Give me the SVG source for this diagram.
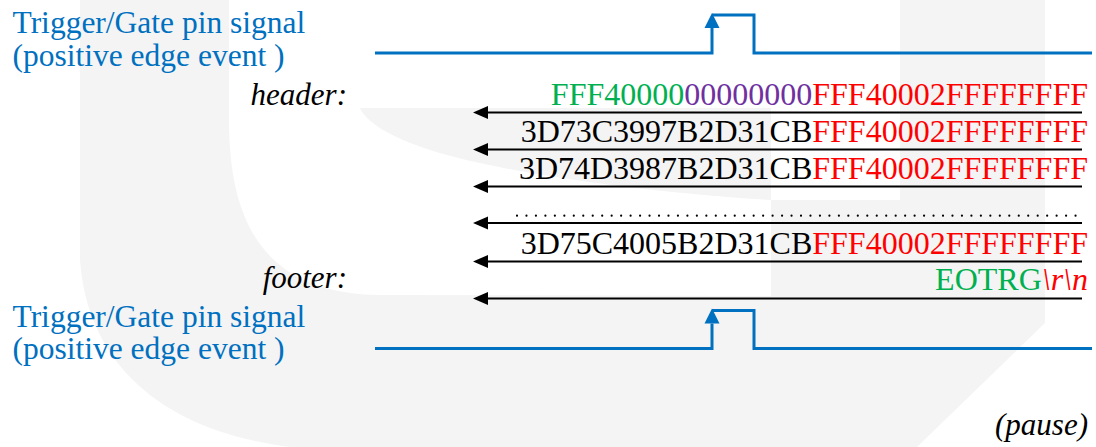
<svg xmlns="http://www.w3.org/2000/svg" width="1096" height="447" viewBox="0 0 1096 447">
  <defs>
    <style>
      .lbl { fill: #0070c0; font-size: 31.5px; }
      .tag { fill: #000; font-size: 31px; font-style: italic; }
      .hex { fill: #000; font-size: 32px; }
      .g { fill: #00b050; }
      .p { fill: #7030a0; }
      .r { fill: #ff0000; }
      .it { font-style: italic; }
      .wm { fill: #f4f4f4; stroke: none; }
      .sig { fill: none; stroke: #0070c0; stroke-width: 3; }
      .pkt { fill: none; stroke: #000; stroke-width: 2.2; }
    </style>
    <marker id="up" viewBox="0 -8 16 16" refX="0" refY="0" markerWidth="16" markerHeight="16" markerUnits="userSpaceOnUse" orient="auto">
      <path d="M0,-7.5 L15,0 L0,7.5 Z" fill="#0070c0"/>
    </marker>
    <marker id="left" viewBox="0 -7 16 14" refX="0" refY="0" markerWidth="16" markerHeight="14" markerUnits="userSpaceOnUse" orient="auto">
      <path d="M0,-6.5 L15,0 L0,6.5 Z" fill="#000"/>
    </marker>
  </defs>

  <rect width="1096" height="447" fill="#ffffff"/>

  <!-- background emblem -->
  <g id="emblem">
    <path class="wm" d="M80,0 H229 V120 C229,230 270,294 380,295 L771,296 V200 H900 V0 H1045 V323 L917,447 H290 C170,432 88,370 80,260 Z"/>
    <path class="wm" d="M360,108 H771 V200 C680,195 520,178 430,150 C390,137 366,122 360,108 Z"/>
  </g>

  <g font-family="Liberation Serif, DejaVu Serif, Noto Serif, serif">
    <!-- trigger pulses -->
    <g id="trigger-top">
      <text class="lbl" x="12.5" y="33.3">Trigger/Gate pin signal</text>
      <text class="lbl" x="12.5" y="66">(positive edge event )</text>
      <path class="sig" d="M375,53 H712 V28" marker-end="url(#up)"/>
      <path class="sig" d="M712,15 H754 V53 H1092"/>
    </g>

    <g id="trigger-bottom">
      <text class="lbl" x="12.5" y="326.7">Trigger/Gate pin signal</text>
      <text class="lbl" x="12.5" y="359">(positive edge event )</text>
      <path class="sig" d="M375,348.5 H712 V323.5" marker-end="url(#up)"/>
      <path class="sig" d="M712,310.5 H754 V348.5 H1092"/>
    </g>

    <!-- frame labels -->
    <g id="labels">
      <text class="tag" x="347" y="105" text-anchor="end">header:</text>
      <text class="tag" x="347" y="288" text-anchor="end">footer:</text>
      <text class="tag" x="1088" y="435" text-anchor="end">(pause)</text>
    </g>

    <!-- frame contents -->
    <g id="frame-header">
      <text class="hex" x="1088" y="105" text-anchor="end"><tspan class="g">FFF40000</tspan><tspan class="p">00000000</tspan><tspan class="r">FFF40002FFFFFFFF</tspan></text>
    </g>
    <g id="frame-1">
      <text class="hex" x="1088" y="142" text-anchor="end">3D73C3997B2D31CB<tspan class="r">FFF40002FFFFFFFF</tspan></text>
    </g>
    <g id="frame-2">
      <text class="hex" x="1088" y="178.5" text-anchor="end">3D74D3987B2D31CB<tspan class="r">FFF40002FFFFFFFF</tspan></text>
    </g>
    <g id="frame-n">
      <text class="hex" x="1088" y="253.5" text-anchor="end">3D75C4005B2D31CB<tspan class="r">FFF40002FFFFFFFF</tspan></text>
    </g>
    <g id="frame-footer">
      <text class="hex" x="1088" y="289.5" text-anchor="end"><tspan class="g">EOTRG</tspan><tspan class="r it">\r\n</tspan></text>
    </g>
  </g>

  <!-- transfer arrows -->
  <g id="connectors">
    <line x1="517" y1="215.7" x2="1085" y2="215.7" stroke="#000" stroke-width="2.2" stroke-linecap="round" stroke-dasharray="0 9.467"/>
    <path class="pkt" d="M1082,112.5 H488" marker-end="url(#left)"/>
    <path class="pkt" d="M1082,149.5 H488" marker-end="url(#left)"/>
    <path class="pkt" d="M1082,186.5 H488" marker-end="url(#left)"/>
    <path class="pkt" d="M1082,223 H488" marker-end="url(#left)"/>
    <path class="pkt" d="M1082,261.5 H488" marker-end="url(#left)"/>
    <path class="pkt" d="M1082,298.5 H488" marker-end="url(#left)"/>
  </g>
</svg>
